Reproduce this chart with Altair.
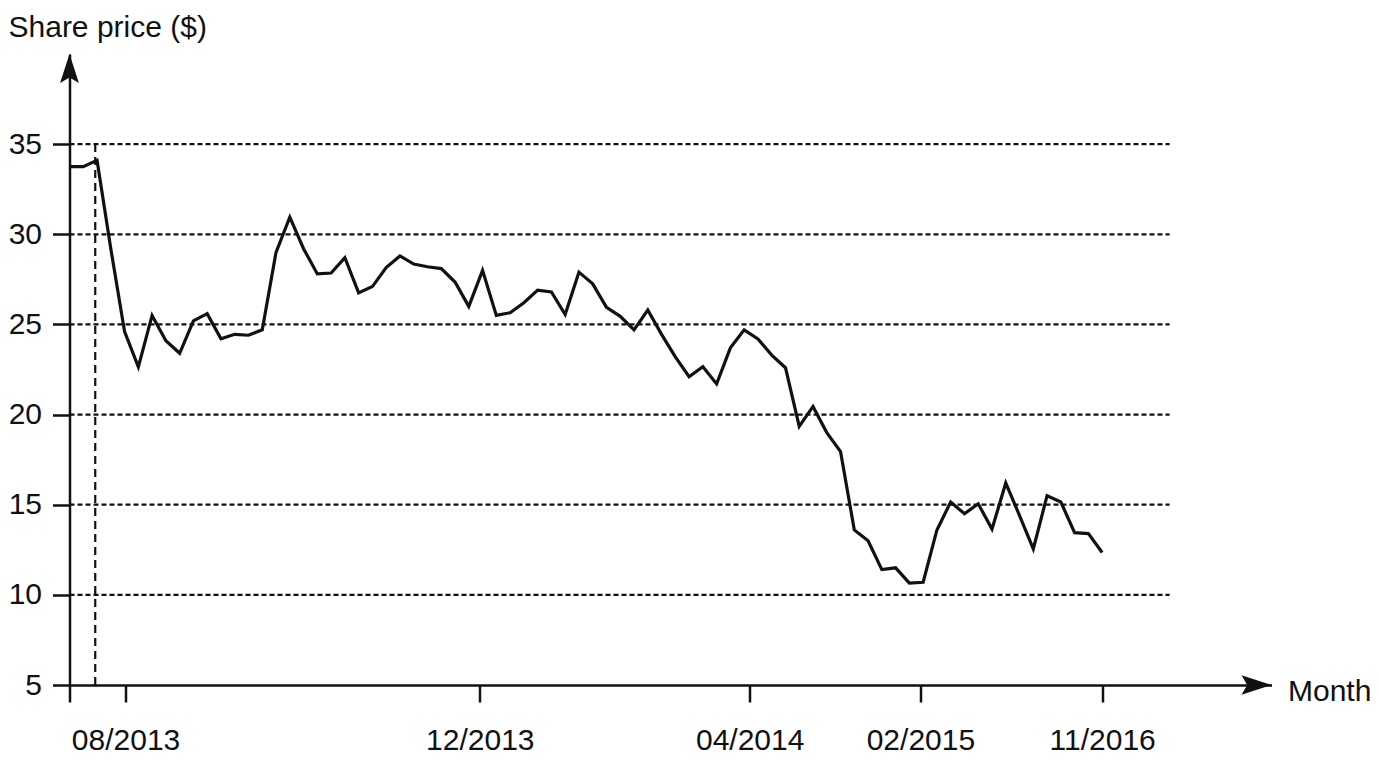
import altair as alt
import pandas as pd

# ---- data ----
prices = [33.75, 33.75, 34.1, 29.2, 24.6, 22.65, 25.5, 24.1, 23.4, 25.2,
          25.6, 24.2, 24.45, 24.4, 24.7, 29.0, 30.95, 29.2, 27.8, 27.85,
          28.7, 26.75, 27.1, 28.15, 28.8, 28.35, 28.2, 28.1, 27.35, 26.0,
          28.0, 25.5, 25.65, 26.2, 26.9, 26.8, 25.55, 27.9, 27.25, 25.95,
          25.45, 24.7, 25.8, 24.45, 23.2, 22.1, 22.65, 21.7, 23.7, 24.7,
          24.2, 23.3, 22.6, 19.35, 20.45, 19.0, 17.95, 13.6, 13.0, 11.4,
          11.5, 10.65, 10.7, 13.6, 15.15, 14.5, 15.05, 13.65, 16.2, 14.4,
          12.55, 15.5, 15.15, 13.45, 13.4, 12.35]
months = list(range(len(prices)))

x_tick_positions = [0, 4.07, 29.8, 49.4, 61.8, 75]
x_tick_labels = ["", "08/2013", "12/2013", "04/2014", "02/2015", "11/2016"]
y_ticks = [5, 10, 15, 20, 25, 30, 35]
grid_levels = [10, 15, 20, 25, 30, 35]
grid_end = 79.9
event_month = 1.87
event_top = 35
x_max = 87.3
y_min, y_max = 5, 40

FONT = "Liberation Sans"
INK = "#111111"

label_expr = " : ".join(
    f"datum.value == {p} ? '{l}'" for p, l in zip(x_tick_positions, x_tick_labels)
) + " : ''"

x_scale = alt.Scale(domain=[0, x_max], nice=False, zero=False)
y_scale = alt.Scale(domain=[y_min, y_max], nice=False, zero=False)

x_axis = alt.Axis(values=x_tick_positions, labelExpr=label_expr,
                  title="Month", titleX=1218, titleY=15,
                  titleAlign="left", titleBaseline="alphabetic",
                  titleAngle=0, tickSize=17, labelPadding=23,
                  labelOverlap=False, labelFlush=False, grid=False)
y_axis = alt.Axis(values=y_ticks, title="Share price ($)",
                  titleX=-61.5, titleY=-18, titleAlign="left",
                  titleBaseline="alphabetic", titleAngle=0,
                  tickSize=17, labelPadding=11, labelOverlap=False,
                  labelFlush=False, grid=False)


def X(field):
    return alt.X(field, type="quantitative", scale=x_scale, axis=x_axis, title="Month")


def Y(field):
    return alt.Y(field, type="quantitative", scale=y_scale, axis=y_axis, title="Share price ($)")


df = pd.DataFrame({"month": months, "price": prices})

line = alt.Chart(df).mark_line(color=INK, strokeWidth=3.2).encode(
    x=X("month"), y=Y("price"),
)

grid_df = pd.DataFrame({"level": grid_levels, "x0": [0] * len(grid_levels),
                        "x1": [grid_end] * len(grid_levels)})
grid = alt.Chart(grid_df).mark_rule(color=INK, strokeWidth=2.2, strokeDash=[5, 3]).encode(
    x=X("x0"), x2="x1:Q", y=Y("level"),
)

event_df = pd.DataFrame({"m": [event_month], "y0": [y_min], "y1": [event_top]})
event = alt.Chart(event_df).mark_rule(color=INK, strokeWidth=2.2, strokeDash=[8, 5]).encode(
    x=X("m"), y=Y("y0"), y2="y1:Q",
)

arrow_path = "M0,-1L0.65,1L0,0.62L-0.65,1Z"
y_arrow = alt.Chart(pd.DataFrame({"ax": [0], "ay": [y_max]})).mark_point(
    shape=arrow_path, size=841, filled=True, fill=INK, opacity=1,
    strokeWidth=0, yOffset=14.5
).encode(x=X("ax"), y=Y("ay"))
x_arrow = alt.Chart(pd.DataFrame({"ax": [x_max], "ay": [y_min]})).mark_point(
    shape=arrow_path, size=900, filled=True, fill=INK, opacity=1,
    strokeWidth=0, angle=90, xOffset=-15
).encode(x=X("ax"), y=Y("ay"))

chart = alt.layer(line, grid, event, y_arrow, x_arrow).properties(
    width=1202, height=631,
    padding={"left": 61.5, "top": 46, "right": 99.5, "bottom": 70},
    autosize=alt.AutoSizeParams(type="none"),
    background="white",
).configure_view(stroke=None).configure_axis(
    domainColor=INK, domainWidth=2.5, tickColor=INK, tickWidth=2.5,
    labelFont=FONT, labelFontSize=30, labelColor=INK,
    titleFont=FONT, titleFontSize=30, titleFontWeight="normal", titleColor=INK,
)

chart.save("out.html", embed_options={"renderer": "svg", "actions": False})
